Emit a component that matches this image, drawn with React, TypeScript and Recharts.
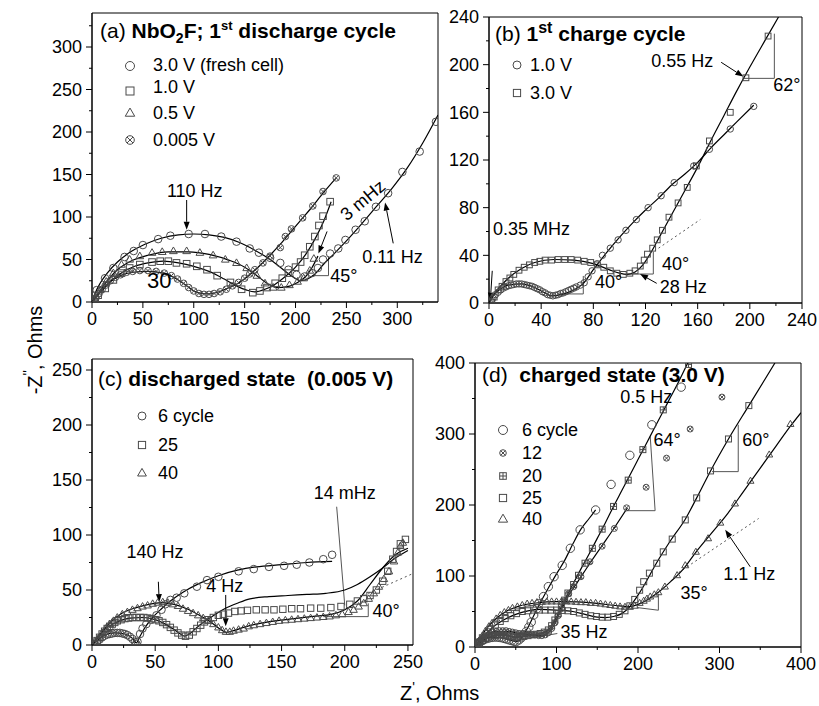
import React from 'react'
import {
  ScatterChart,
  Scatter,
  XAxis,
  YAxis,
  ReferenceLine,
  ReferenceDot,
  ReferenceArea,
} from 'recharts'

const FONT = '"Liberation Sans", Arial, Helvetica, sans-serif'
const INK = '#000'
const MK = '#4a4a4a'

// tick values
const ticksA = [0, 25, 50, 75, 100, 125, 150, 175, 200, 225, 250, 275, 300, 325]
const majorsA = [0, 50, 100, 150, 200, 250, 300]
const ticksB = [0, 20, 40, 60, 80, 100, 120, 140, 160, 180, 200, 220, 240]
const majorsB = [0, 40, 80, 120, 160, 200, 240]
const ticksC = [0, 25, 50, 75, 100, 125, 150, 175, 200, 225, 250]
const majorsC = [0, 50, 100, 150, 200, 250]
const ticksD = [0, 50, 100, 150, 200, 250, 300, 350, 400]
const majorsD = [0, 100, 200, 300, 400]

// (a) 1st discharge cycle
const a30 = [[4.6,14],[12.8,28],[21,40],[32,53],[41,60],[50,67],[65,74],[77,78],[95,80],[111,80],[127,77],[142,71],[155,63],[164,58],[175,52],[185,46],[193,38],[201,32],[209,30],[216,34],[222,40],[227,50],[234,57],[242,63],[249,73],[259,85],[268,95],[279,112],[291,128],[305,153],[322,177],[338,212]]
const a30fit = [[0,0],[3,10],[8,22],[15,34],[25,47],[38,59],[52,68],[68,75],[85,79],[100,80],[115,79],[130,76],[145,70],[160,61],[175,50],[188,38],[198,29],[205,25],[212,27],[220,34],[228,45],[238,57],[250,72],[265,92],[280,113],[295,134],[310,158],[325,187],[340,220]]
const a10 = [[3,3],[6,8],[13,16],[21,26],[29,34],[37,40],[47,44],[59,47],[67,48],[75,48],[83,46],[93,45],[103,42],[113,38],[123,31],[136,23],[147,15],[158,11],[165,13],[172,17],[180,22],[187,28],[193,34],[200,41],[205,47],[209,55],[214,65],[219,77],[223,90],[227,101],[234,118]]
const a10fit = [[0,0],[5,7],[12,16],[20,26],[30,35],[42,42],[55,46],[70,48],[85,46],[100,42],[115,36],[130,27],[142,19],[152,14],[160,12],[170,15],[180,21],[190,30],[200,41],[210,56],[220,76],[228,96],[235,118]]
const a05 = [[3,4],[8,14],[14,24],[21,34],[29,44],[37,50],[47,54],[59,58],[69,59],[80,60],[93,60],[106,58],[119,55],[131,50],[142,46],[152,40],[162,31],[170,22],[178,17],[186,17],[194,20],[202,24],[208,28],[214,37],[218,51]]
const a05fit = [[0,0],[6,10],[15,25],[25,38],[38,48],[55,55],[75,59],[95,59],[115,56],[135,49],[150,41],[162,31],[172,22],[182,17],[192,18],[202,23],[210,30],[216,40],[222,54]]
const a0005 = [[2,1],[4,5],[7,10],[10,15],[14,20],[18,25],[23,29],[28,32],[34,35],[40,36],[47,37],[55,37],[63,36],[71,34],[78,31],[84,27],[90,22],[95,17],[100,13],[105,10],[110,9],[115,9],[120,10],[126,12],[132,15],[138,19],[144,23],[150,28],[155,33],[160,38],[168,46],[175,54],[185,64],[190,77],[196,86],[207,99],[217,113],[227,130],[240,146]]
const a0005fit = [[0,0],[4,6],[10,15],[18,24],[28,31],[40,35],[55,36],[70,34],[82,28],[92,20],[100,13],[108,10],[115,9.5],[125,12],[135,17],[145,23],[155,32],[165,43],[175,55],[185,68],[195,82],[205,96],[215,110],[227,128],[240,146]]

// (b) 1st charge cycle
const b10 = [[2,1],[3,4],[5,7],[7,9],[9,11],[11,12.5],[13,13.5],[15,14.5],[17,15],[19,15.5],[21,16],[23,16],[25,16],[27,15.5],[29,15],[31,14.5],[33,14],[35,13],[37,12],[39,11],[41,9.5],[43,8.5],[45,7],[47,6.5],[49,6],[51,6.5],[53,7],[55,8],[57,8.5],[59,9.5],[61,10.5],[63,11.5],[65,12.5],[67,13.5],[70,15],[73,17],[76,22],[79,27],[83,33],[87,40],[93,46],[99,53],[105,61],[113,70],[122,80],[132,90],[142,101],[157,115],[169,129],[185,146],[203,165]]
const b10fit = [[0,0],[3,6],[8,11],[15,15],[25,16],[35,13],[42,9],[48,6],[55,7],[65,11],[72,16],[80,28],[90,42],[100,55],[110,67],[120,78],[130,88],[140,99],[150,108],[160,118],[170,130],[180,141],[190,152],[203,166]]
const b30 = [[2,1],[4,5],[7,11],[10,14],[13,18],[16,21],[19,24],[23,27.5],[27,30],[31,32],[35,34],[39,35],[43,36],[48,36],[53,36.5],[58,36.5],[63,36.5],[68,36],[73,35],[78,34],[83,32],[88,30],[93,27],[98,25],[103,24],[108,25],[112,27],[116,31],[119,36],[121.5,41],[125.5,46],[129,53],[133,61],[138,72],[145,84],[152,97],[159,115],[169,136],[185,160],[197,189],[214,224]]
const b30fit = [[0,0],[3,6],[8,13],[15,21],[25,29],[35,34],[50,36.5],[65,36],[80,33],[92,28],[100,25],[106,24],[112,26],[118,32],[124,42],[130,54],[140,74],[150,94],[160,114],[170,136],[180,157],[190,178],[200,198],[212,221],[222,240]]

// (c) discharged state
const c6 = [[2,0.5],[4,3],[6,5],[8,7],[10,8.5],[12,9.5],[14,10],[16,10.5],[18,11],[20,11],[22,11],[24,10.5],[26,10],[28,9],[30,7.5],[32,5.5],[34,3],[35,1],[36,3],[38,10],[40,15],[43,19],[47,23],[51,27],[55,32],[58,37],[62,41],[67,43],[73,47],[83,53],[91,59],[100,62],[116,67],[128,69],[140,71],[152,72],[162,73],[172,75],[183,78],[190,82]]
const c6fit = [[0,0],[5,5],[10,9],[18,11],[26,10],[32,6],[35,2],[38,8],[42,16],[48,25],[55,33],[62,40],[72,48],[85,56],[100,63],[115,68],[130,71],[150,73],[170,75],[190,76]]
const c25 = [[2,0.5],[4,4],[6,7],[8,10],[10,12.5],[12,15],[14,17],[16,19],[18,20.5],[20,22],[23,23],[26,24],[29,24.5],[32,25],[35,25],[38,25],[41,25],[44,24.5],[47,24],[50,23],[53,22],[56,20.5],[59,18.5],[62,16],[65,13.5],[68,11],[71,9],[74,8],[77,9],[80,12],[83,15],[86,18],[89,21],[92,23],[96,25],[100,27],[104,28],[108,29],[113,30.5],[118,31],[123,31.5],[130,32],[137,32],[144,32],[151,32.5],[158,33],[165,33],[173,33.5],[181,33.5],[189,34],[197,35],[204,37],[210,40],[215,42],[220,45],[225,50],[230,58],[234,67],[238,78],[241,85],[244,92],[248,96]]
const c25fit = [[0,0],[5,8],[12,16],[20,21],[30,24.5],[40,25],[50,23],[58,19],[65,14],[70,10],[73,8],[77,10],[85,18],[95,26],[105,33],[115,38],[125,42],[140,44],[155,45],[170,46],[185,47],[200,50],[210,55],[220,62],[230,70],[240,79],[250,86]]
const c40 = [[2,1],[5,6],[8,11],[11,15],[14,19],[17,22],[20,25],[24,28],[28,30],[32,32],[36,33.5],[40,35],[44,36],[48,37.5],[52,38.5],[56,39],[60,38.5],[64,37],[68,35.5],[72,33],[76,31],[80,29],[84,27],[88,24.5],[92,22],[96,19],[100,16],[103,13.5],[106,12],[109,12],[112,13],[116,14],[120,15],[124,17],[128,18],[133,19],[138,20],[143,21],[148,22],[153,22.5],[158,23],[163,23.5],[168,24],[173,24.5],[178,25],[183,25.5],[188,26],[193,27],[198,28],[203,30],[207,32],[211,35],[215,38],[219,42],[223,47],[227,53],[231,60],[235,67],[239,76],[242,84],[244,90],[246,93]]
const c40fit = [[0,0],[6,9],[14,20],[24,29],[35,34],[45,37],[55,38.5],[65,37],[75,33],[85,27],[95,20],[102,14],[106,11.5],[112,13],[120,16],[130,19],[145,22],[160,24],[175,26],[190,28],[200,32],[210,40],[220,55],[230,70],[240,82],[250,88]]

// (d) charged state
const d6 = [[2,1],[4,4],[6,7],[9,9],[12,11],[15,12],[18,13],[21,13.5],[24,14],[27,14],[30,13.5],[33,13],[36,12],[39,11],[42,10],[45,9],[48,8],[51,8],[54,10],[57,13],[60,17],[63,22],[66,28],[69,35],[72,45],[76,54],[78,61],[84,71],[90,85],[97,99],[107,115],[117,139],[129,165],[148,193],[167,229],[190,270],[217,313],[253,366]]
const d6fit = [[0,0],[5,6],[12,11],[22,14],[32,13],[42,10],[50,8],[55,10],[60,18],[66,30],[72,44],[80,62],[90,83],[100,103],[110,122],[120,145],[130,166],[140,181],[148,193]]
const d12 = [[2,1],[4,5],[7,9],[10,13],[14,16],[18,19],[22,21],[26,22],[30,23],[34,23],[38,23],[42,22],[46,21],[50,20],[54,19],[58,19],[62,18.5],[66,18],[70,17.5],[74,17],[78,16],[82,16],[86,17],[90,20],[94,26],[98,34],[102,44],[106,54],[110,65],[115,75],[121,85],[130,99],[141,120],[156,142],[171,167],[186,196],[210,225],[235,266],[264,307],[303,352]]
const d12fit = [[0,0],[6,8],[15,17],[28,22],[40,22],[55,19],[70,17],[82,16],[90,20],[98,33],[106,53],[115,73],[125,90],[141,118],[156,143],[171,168],[187,196]]
const d20 = [[2,1],[5,5],[9,9],[13,12],[17,14],[21,15.5],[25,16.5],[30,17],[35,17],[40,16],[45,14.5],[50,13.5],[55,14],[60,15],[65,16],[70,17],[75,18],[80,19],[85,21],[90,24],[94,30],[98,38],[102,47],[106,56],[110,66],[114,76],[121,88],[127,101],[135,118],[144,139],[156,166],[170,198],[188,235],[206,278],[231,334],[262,398]]
const d20fit = [[0,0],[8,8],[20,15],[35,17],[50,14],[65,16],[80,19],[90,24],[100,42],[110,66],[120,88],[130,110],[140,131],[150,153],[160,175],[170,198],[180,220],[190,242],[200,264],[210,286],[220,308],[230,330],[240,352],[250,374],[261,400]]
const d25 = [[2,1],[5,7],[9,13],[14,19],[19,25],[25,31],[31,36],[37,40],[44,44],[51,47],[58,50],[65,51],[72,52],[79,52],[86,52],[93,52],[100,52],[107,51.5],[114,51],[121,50],[128,48],[135,46],[142,44],[149,43],[156,42],[163,42],[170,43],[177,46],[184,51],[190,58],[196,67],[202,80],[207,92],[214,104],[223,118],[231,134],[242,152],[258,179],[272,210],[289,248],[311,293],[336,340]]
const d25fit = [[0,0],[5,8],[12,17],[22,28],[35,38],[50,46],[65,51],[80,53],[100,52],[120,50],[135,46],[150,42],[160,41.5],[170,43],[180,47],[190,57],[200,73],[210,92],[222,117],[240,150],[258,180],[272,210],[289,248],[311,293],[336,340],[368,400]]
const d40 = [[2,2],[5,9],[9,16],[13,23],[17,29],[21,34],[26,40],[31,45],[36,49],[41,52],[46,55],[52,57],[58,59],[64,61],[70,62],[76,63],[82,63.5],[88,64],[94,64],[100,64],[106,64],[112,64],[118,64],[124,63.5],[130,63],[136,63],[142,62],[148,62],[154,61],[160,60],[166,59],[172,58],[178,57],[184,56.5],[190,56.5],[196,58],[202,62],[207,65],[211,68],[215,71],[220,74],[225,77],[233,85],[248,101],[258,115],[271,134],[286,153],[301,175],[319,202],[338,234],[361,271],[387,314]]
const d40fit = [[0,0],[6,12],[15,27],[25,39],[38,50],[55,58],[75,62],[100,64],[125,63.5],[150,61.5],[175,58],[190,57],[200,60],[212,67],[225,77],[240,92],[255,109],[270,132],[290,160],[310,188],[330,220],[350,252],[370,284],[387,311],[400,330]]

type Pair = number[]
const xy = (a: Pair[]) => a.map(([x, y]) => ({ x, y }))

const marker = (kind: string, r: number) => (p: any) => {
  const { cx, cy } = p
  if (cx == null || cy == null) return <g />
  const s = { fill: 'none', stroke: MK, strokeWidth: 1 }
  const d = r * 0.7
  if (kind === 'circle') return <circle cx={cx} cy={cy} r={r} {...s} />
  if (kind === 'square') return <rect x={cx - r} y={cy - r} width={2 * r} height={2 * r} {...s} />
  if (kind === 'triangle')
    return <path d={`M${cx},${cy - r * 1.15}L${cx + r * 1.1},${cy + r * 0.75}L${cx - r * 1.1},${cy + r * 0.75}Z`} {...s} />
  if (kind === 'xcircle')
    return (
      <g {...s}>
        <circle cx={cx} cy={cy} r={r} />
        <path d={`M${cx - d},${cy - d}L${cx + d},${cy + d}M${cx - d},${cy + d}L${cx + d},${cy - d}`} />
      </g>
    )
  return (
    <g {...s}>
      <rect x={cx - r} y={cy - r} width={2 * r} height={2 * r} />
      <path d={`M${cx - r},${cy}L${cx + r},${cy}M${cx},${cy - r}L${cx},${cy + r}`} />
    </g>
  )
}

const noShape = () => <g />

const tickX = (majors: number[]) => (p: any) => {
  const v = p.payload?.value
  const ay = p.y - 8
  const maj = majors.includes(v)
  return (
    <g>
      <line x1={p.x} x2={p.x} y1={ay} y2={ay + (maj ? 6 : 3)} stroke={INK} />
      {maj ? (
        <text x={p.x} y={ay + 23} textAnchor="middle" fontSize={18} fontFamily={FONT} fill={INK}>
          {v}
        </text>
      ) : null}
    </g>
  )
}

const tickY = (majors: number[]) => (p: any) => {
  const v = p.payload?.value
  const ax = p.x + 8
  const maj = majors.includes(v)
  return (
    <g>
      <line x1={ax} x2={ax - (maj ? 6 : 3)} y1={p.y} y2={p.y} stroke={INK} />
      {maj ? (
        <text x={ax - 10} y={p.y} dy="0.36em" textAnchor="end" fontSize={18} fontFamily={FONT} fill={INK}>
          {v}
        </text>
      ) : null}
    </g>
  )
}

const arrowShape = (p: any) => {
  const { x1, y1, x2, y2 } = p
  const a = Math.atan2(y2 - y1, x2 - x1)
  const L = 8
  const W = 3
  const bx = x2 - L * Math.cos(a)
  const by = y2 - L * Math.sin(a)
  return (
    <g>
      <line x1={x1} y1={y1} x2={bx} y2={by} stroke={INK} strokeWidth={1} />
      <path
        d={`M${x2},${y2}L${bx + W * Math.sin(a)},${by - W * Math.cos(a)}L${bx - W * Math.sin(a)},${by + W * Math.cos(a)}Z`}
        fill={INK}
      />
    </g>
  )
}

type Note = { x: number; y: number; t: string; anchor?: string; size?: number; rot?: number }
type Seg = number[]

type Cfg = {
  left: number
  top: number
  w: number
  h: number
  margin: { top: number; right: number; bottom: number; left: number }
  yw: number
  xMax: number
  yMax: number
  xTicks: number[]
  xMaj: number[]
  yTicks: number[]
  yMaj: number[]
  series: { data: Pair[]; kind: string; r: number }[]
  fits: Pair[][]
  segs: Seg[]
  dotted: Seg[]
  arrows: Seg[]
  notes: Note[]
}

const panelA: Cfg = {
  left: 0, top: 0, w: 445, h: 330, margin: { top: 13, right: 7, bottom: 3, left: 52 }, yw: 40,
  xMax: 340, yMax: 340, xTicks: ticksA, xMaj: majorsA, yTicks: ticksA, yMaj: majorsA,
  series: [
    { data: a30, kind: 'circle', r: 3.8 },
    { data: a10, kind: 'square', r: 3.3 },
    { data: a05, kind: 'triangle', r: 3.5 },
    { data: a0005, kind: 'xcircle', r: 3.3 },
  ],
  fits: [a30fit, a10fit, a05fit, a0005fit],
  segs: [[216, 31, 232.4, 31], [232.4, 31, 232.4, 53.5]],
  dotted: [],
  arrows: [[93, 120, 93, 85], [231, 83, 222.5, 57], [296, 69, 288, 117]],
  notes: [
    { x: 101, y: 124, t: '110 Hz', anchor: 'middle' },
    { x: 54, y: 17, t: '30', size: 22 },
    { x: 266, y: 120, t: '3 mHz', anchor: 'middle', rot: -40 },
    { x: 265.5, y: 46, t: '0.11 Hz' },
    { x: 234, y: 24, t: '45°' },
  ],
}

const panelB: Cfg = {
  left: 440, top: 0, w: 379, h: 330, margin: { top: 17, right: 17, bottom: 2, left: 9 }, yw: 40,
  xMax: 240, yMax: 240, xTicks: ticksB, xMaj: majorsB, yTicks: ticksB, yMaj: majorsB,
  series: [
    { data: b10, kind: 'circle', r: 3.2 },
    { data: b30, kind: 'square', r: 2.9 },
  ],
  fits: [b10fit, b30fit],
  segs: [
    [53, 7.6, 72.3, 7.6], [72.3, 7.6, 72.3, 22.7],
    [105.6, 24.3, 126, 24.3], [126, 24.3, 126, 43],
    [195, 188.5, 218.8, 188.5], [218.8, 188.5, 218.8, 226],
  ],
  dotted: [[130, 46, 162, 70]],
  arrows: [[178, 202, 195, 190], [128.6, 16.5, 115.8, 24.3], [2.5, 27, 1, 2]],
  notes: [
    { x: 172, y: 198, t: '0.55 Hz', anchor: 'end' },
    { x: 218, y: 178, t: '62°' },
    { x: 3, y: 57, t: '0.35 MHz' },
    { x: 81.3, y: 12.5, t: '40°' },
    { x: 132.7, y: 27.7, t: '40°' },
    { x: 131, y: 8.6, t: '28 Hz' },
  ],
}

const panelC: Cfg = {
  left: 0, top: 340, w: 440, h: 335, margin: { top: 19, right: 27, bottom: 5, left: 52 }, yw: 40,
  xMax: 254, yMax: 260, xTicks: ticksC, xMaj: majorsC, yTicks: ticksC, yMaj: majorsC,
  series: [
    { data: c6, kind: 'circle', r: 3.8 },
    { data: c25, kind: 'square', r: 3.2 },
    { data: c40, kind: 'triangle', r: 3.4 },
  ],
  fits: [c6fit, c25fit, c40fit],
  segs: [[183, 25.8, 218.6, 25.8], [218.6, 25.8, 218.6, 37.9], [193.6, 125.7, 200, 36]],
  dotted: [[215, 45, 254, 65]],
  arrows: [[52.5, 57.5, 53.2, 39], [105.8, 45.5, 105.8, 17]],
  notes: [
    { x: 49.8, y: 78.8, t: '140 Hz', anchor: 'middle' },
    { x: 105, y: 48.5, t: '4 Hz', anchor: 'middle' },
    { x: 200, y: 133, t: '14 mHz', anchor: 'middle' },
    { x: 222, y: 25.7, t: '40°' },
  ],
}

const panelD: Cfg = {
  left: 420, top: 340, w: 399, h: 335, margin: { top: 23, right: 18, bottom: 3, left: 10 }, yw: 45,
  xMax: 400, yMax: 400, xTicks: ticksD, xMaj: majorsD, yTicks: ticksD, yMaj: majorsD,
  series: [
    { data: d6, kind: 'circle', r: 4.2 },
    { data: d12, kind: 'xcircle', r: 3 },
    { data: d20, kind: 'psquare', r: 3 },
    { data: d25, kind: 'square', r: 3 },
    { data: d40, kind: 'triangle', r: 3.2 },
  ],
  fits: [d6fit, d12fit, d20fit, d25fit, d40fit],
  segs: [
    [186.3, 192, 221, 192], [221, 192, 215, 296.5],
    [290.7, 247, 323, 247], [323, 247, 323, 313],
    [198.5, 55.6, 225, 51.8], [225, 51.8, 225, 75],
    [101, 19, 80.7, 15],
  ],
  dotted: [[250, 105, 348, 181]],
  arrows: [[337.7, 113, 307, 165]],
  notes: [
    { x: 210, y: 344, t: '0.5 Hz', anchor: 'middle' },
    { x: 219, y: 283, t: '64°' },
    { x: 328, y: 283, t: '60°' },
    { x: 336.6, y: 95, t: '1.1 Hz', anchor: 'middle' },
    { x: 252, y: 68, t: '35°' },
    { x: 105, y: 13, t: '35 Hz' },
  ],
}

const noteShape = (n: Note) => (p: any) => (
  <text
    x={p.cx}
    y={p.cy}
    textAnchor={n.anchor || 'start'}
    dy={n.rot ? '0.35em' : undefined}
    transform={n.rot ? `rotate(${n.rot}, ${p.cx}, ${p.cy})` : undefined}
    fontSize={n.size || 18}
    fontFamily={FONT}
    fill={INK}
  >
    {n.t}
  </text>
)

function Panel({ c }: { c: Cfg }) {
  return (
    <div style={{ position: 'absolute', left: c.left, top: c.top }}>
      <ScatterChart width={c.w} height={c.h} margin={c.margin}>
        <XAxis
          type="number"
          dataKey="x"
          domain={[0, c.xMax]}
          ticks={c.xTicks}
          interval={0}
          allowDataOverflow
          tickLine={false}
          tickSize={6}
          tickMargin={2}
          axisLine={{ stroke: INK }}
          tick={tickX(c.xMaj)}
          height={25}
        />
        <YAxis
          type="number"
          dataKey="y"
          domain={[0, c.yMax]}
          ticks={c.yTicks}
          interval={0}
          allowDataOverflow
          tickLine={false}
          tickSize={6}
          tickMargin={2}
          axisLine={{ stroke: INK }}
          tick={tickY(c.yMaj)}
          width={c.yw}
        />
        <ReferenceArea x1={0} x2={c.xMax} y1={0} y2={c.yMax} fill="none" stroke={INK} strokeWidth={1} ifOverflow="visible" />
        {c.segs.map((s, i) => (
          <ReferenceLine key={'s' + i} segment={[{ x: s[0], y: s[1] }, { x: s[2], y: s[3] }]} stroke="#555" strokeWidth={1} ifOverflow="visible" />
        ))}
        {c.dotted.map((s, i) => (
          <ReferenceLine key={'d' + i} segment={[{ x: s[0], y: s[1] }, { x: s[2], y: s[3] }]} stroke="#555" strokeWidth={1} strokeDasharray="2 3" ifOverflow="visible" />
        ))}
        {c.arrows.map((s, i) => (
          <ReferenceLine key={'a' + i} segment={[{ x: s[0], y: s[1] }, { x: s[2], y: s[3] }]} stroke={INK} ifOverflow="visible" shape={arrowShape} />
        ))}
        {c.fits.map((f, i) => (
          <Scatter
            key={'f' + i}
            data={xy(f)}
            line={{ stroke: INK, strokeWidth: 1.2 }}
            lineJointType="monotoneX"
            shape={noShape}
            isAnimationActive={false}
          />
        ))}
        {c.series.map((s, i) => (
          <Scatter key={'p' + i} data={xy(s.data)} shape={marker(s.kind, s.r)} isAnimationActive={false} />
        ))}
        {c.notes.map((n, i) => (
          <ReferenceDot key={'n' + i} x={n.x} y={n.y} r={1} ifOverflow="visible" shape={noteShape(n)} />
        ))}
      </ScatterChart>
    </div>
  )
}

const T = { fontFamily: FONT, fill: INK }

function Overlay() {
  const leg = (kind: string, r: number, x: number, y: number) => marker(kind, r)({ cx: x, cy: y })
  return (
    <svg width={819} height={706} style={{ position: 'absolute', left: 0, top: 0, pointerEvents: 'none' }}>
      {/* titles */}
      <text x={100} y={38} fontSize={21} {...T}>
        (a) <tspan fontWeight="bold">NbO</tspan>
        <tspan fontWeight="bold" dy={5} fontSize={14}>2</tspan>
        <tspan fontWeight="bold" dy={-5}>F; 1</tspan>
        <tspan fontWeight="bold" dy={-8} fontSize={13}>st</tspan>
        <tspan fontWeight="bold" dy={8}> discharge cycle</tspan>
      </text>
      <text x={495} y={41} fontSize={21} {...T}>
        (b) <tspan fontWeight="bold">1</tspan>
        <tspan fontWeight="bold" dy={-8} fontSize={16}>st</tspan>
        <tspan fontWeight="bold" dy={8}> charge cycle</tspan>
      </text>
      <text x={98} y={386} fontSize={21} {...T} style={{ whiteSpace: 'pre' }}>
        (c) <tspan fontWeight="bold">discharged state  (0.005 V)</tspan>
      </text>
      <text x={482} y={382} fontSize={21} {...T} style={{ whiteSpace: 'pre' }}>
        (d)  <tspan fontWeight="bold">charged state (3.0 V)</tspan>
      </text>

      {/* legend a */}
      {leg('circle', 4.5, 130, 66)}
      {leg('square', 4, 130, 91)}
      {leg('triangle', 4.3, 130, 113)}
      {leg('xcircle', 4.3, 130, 140)}
      <text x={153} y={71} fontSize={18} {...T}>3.0 V (fresh cell)</text>
      <text x={153} y={93} fontSize={18} {...T}>1.0 V</text>
      <text x={153} y={119} fontSize={18} {...T}>0.5 V</text>
      <text x={153} y={146} fontSize={18} {...T}>0.005 V</text>

      {/* legend b */}
      {leg('circle', 4, 517, 65)}
      {leg('square', 3.6, 517, 93)}
      <text x={530} y={71} fontSize={18} {...T}>1.0 V</text>
      <text x={530} y={99} fontSize={18} {...T}>3.0 V</text>

      {/* legend c */}
      {leg('circle', 4, 142, 416)}
      {leg('square', 3.6, 142, 445)}
      {leg('triangle', 4, 142, 473)}
      <text x={158} y={422} fontSize={18} {...T}>6 cycle</text>
      <text x={158} y={451} fontSize={18} {...T}>25</text>
      <text x={158} y={479} fontSize={18} {...T}>40</text>

      {/* legend d */}
      {leg('circle', 4.5, 503, 430)}
      {leg('xcircle', 3.3, 503, 453)}
      {leg('psquare', 3.3, 503, 476)}
      {leg('square', 3.6, 503, 498)}
      {leg('triangle', 4.2, 503, 519)}
      <text x={522} y={436} fontSize={18} {...T}>6 cycle</text>
      <text x={522} y={459} fontSize={18} {...T}>12</text>
      <text x={522} y={482} fontSize={18} {...T}>20</text>
      <text x={522} y={504} fontSize={18} {...T}>25</text>
      <text x={522} y={525} fontSize={18} {...T}>40</text>

      {/* axis titles */}
      <text x={42} y={350} transform="rotate(-90, 42, 350)" textAnchor="middle" fontSize={20} {...T}>
        -Z<tspan dy={-9} fontSize={14}>''</tspan>
        <tspan dy={9}>, Ohms</tspan>
      </text>
      <text x={400} y={700} fontSize={20} {...T}>
        Z<tspan dy={-8} fontSize={14}>'</tspan>
        <tspan dy={8}>, Ohms</tspan>
      </text>
    </svg>
  )
}

export default function App() {
  return (
    <div style={{ position: 'absolute', left: 0, top: 0, width: 819, height: 706, background: '#fff', fontFamily: FONT }}>
      <Panel c={panelA} />
      <Panel c={panelB} />
      <Panel c={panelC} />
      <Panel c={panelD} />
      <Overlay />
    </div>
  )
}
